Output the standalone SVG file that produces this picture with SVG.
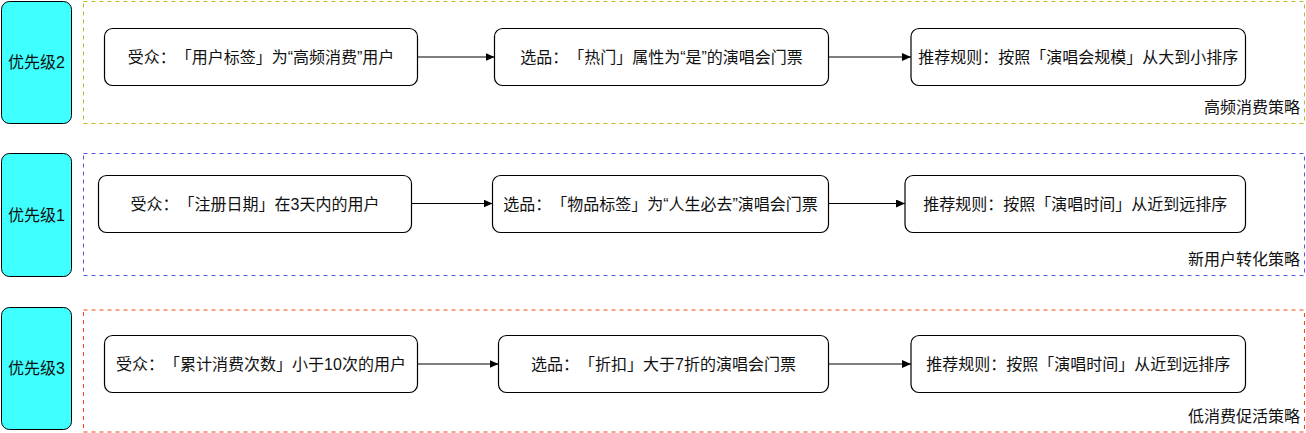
<svg xmlns="http://www.w3.org/2000/svg" width="1306" height="433" viewBox="0 0 1306 433">
<defs>
<style>
text{font-family:"Liberation Sans","Noto Sans CJK SC",sans-serif;font-size:16px;fill:#111;text-spacing-trim:space-all;}
.c{text-anchor:middle;}
.e{text-anchor:end;}
.prio{fill:#40FFFF;stroke:#000;stroke-width:1;}
.node{fill:#fff;stroke:#000;stroke-width:1.2;}
.grp{fill:none;stroke-width:1;stroke-dasharray:4 4;}
.edge{stroke:#000;stroke-width:1.2;fill:none;marker-end:url(#arr);}
</style>
<marker id="arr" markerUnits="userSpaceOnUse" markerWidth="9" markerHeight="8" refX="9" refY="4" orient="auto">
<path d="M0,0 L9,4 L0,8 z" fill="#000"/>
</marker>
</defs>
<rect width="1306" height="433" fill="#fff"/>

<g id="group-high">
<rect class="grp" x="83.5" y="1.5" width="1221" height="122" stroke="#B8BC1E"/>
<text class="e" x="1300" y="113">高频消费策略</text>
</g>
<g id="group-new">
<rect class="grp" x="83.5" y="153.5" width="1221" height="122" stroke="#5555EE"/>
<text class="e" x="1300" y="264.5">新用户转化策略</text>
</g>
<g id="group-low">
<rect class="grp" x="83.5" y="310" width="1221" height="122" stroke="#FF4415"/>
<text class="e" x="1300" y="421.5">低消费促活策略</text>
</g>

<g id="prio2">
<rect class="prio" x="1.5" y="1.5" width="70" height="122" rx="8"/>
<text class="c" x="36.5" y="68">优先级2</text>
</g>
<g id="prio1">
<rect class="prio" x="1.5" y="153.5" width="70" height="123" rx="8"/>
<text class="c" x="36.5" y="220.5">优先级1</text>
</g>
<g id="prio3">
<rect class="prio" x="1.5" y="307.5" width="70" height="122" rx="8"/>
<text class="c" x="36.5" y="374">优先级3</text>
</g>

<g id="r1n1">
<rect class="node" x="104.5" y="28.5" width="313" height="57" rx="8"/>
<text class="c" x="261" y="62.5">受众：「用户标签」为“高频消费”用户</text>
</g>
<g id="r1n2">
<rect class="node" x="494.5" y="28.5" width="334" height="57" rx="8"/>
<text class="c" x="661.5" y="62.5">选品：「热门」属性为“是”的演唱会门票</text>
</g>
<g id="r1n3">
<rect class="node" x="911" y="28.5" width="334.5" height="57" rx="8"/>
<text class="c" x="1078.25" y="62.5">推荐规则：按照「演唱会规模」从大到小排序</text>
</g>

<g id="r2n1">
<rect class="node" x="98.5" y="175.5" width="313" height="57" rx="8"/>
<text class="c" x="255" y="209.5">受众：「注册日期」在3天内的用户</text>
</g>
<g id="r2n2">
<rect class="node" x="492.5" y="175.5" width="336" height="57" rx="8"/>
<text class="c" x="660.5" y="209.5">选品：「物品标签」为“人生必去”演唱会门票</text>
</g>
<g id="r2n3">
<rect class="node" x="905" y="175.5" width="340.5" height="57" rx="8"/>
<text class="c" x="1075.25" y="209.5">推荐规则：按照「演唱时间」从近到远排序</text>
</g>

<g id="r3n1">
<rect class="node" x="104.5" y="335.5" width="313" height="57" rx="8"/>
<text class="c" x="261" y="369.5">受众：「累计消费次数」小于10次的用户</text>
</g>
<g id="r3n2">
<rect class="node" x="498.5" y="335.5" width="330" height="57" rx="8"/>
<text class="c" x="663.5" y="369.5">选品：「折扣」大于7折的演唱会门票</text>
</g>
<g id="r3n3">
<rect class="node" x="911" y="335.5" width="334.5" height="57" rx="8"/>
<text class="c" x="1078.25" y="369.5">推荐规则：按照「演唱时间」从近到远排序</text>
</g>

<g id="connectors">
<path class="edge" d="M417.5,57 L494.5,57"/>
<path class="edge" d="M828.5,57 L911,57"/>
<path class="edge" d="M411.5,203.5 L492.5,203.5"/>
<path class="edge" d="M828.5,203.5 L905,203.5"/>
<path class="edge" d="M417.5,364 L498.5,364"/>
<path class="edge" d="M828.5,364 L911,364"/>
</g>
</svg>
